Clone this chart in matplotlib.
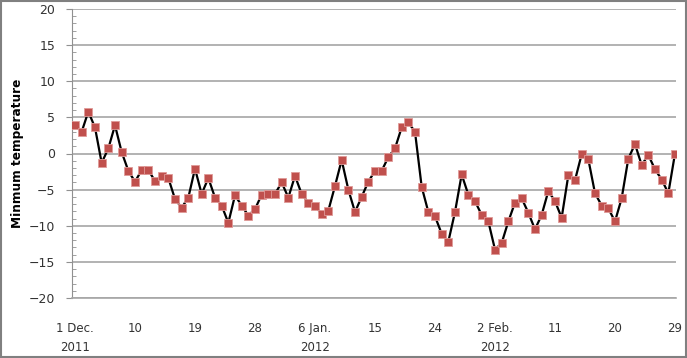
import numpy as np
import matplotlib.pyplot as plt
from matplotlib.patches import Rectangle
from matplotlib.ticker import MultipleLocator

# daily minimum temperature, 1 Dec 2011 .. 29 Feb 2012
min_temp = [
    4.0, 3.0, 5.8, 3.6, -1.3, 0.7, 3.9, 0.2, -2.4, -3.9,
    -2.3, -2.3, -3.8, -3.1, -3.4, -6.3, -7.5, -6.1, -2.1, -5.6,
    -3.4, -6.1, -7.2, -9.6, -5.8, -7.2, -8.6, -7.7, -5.7, -5.6,
    -5.6, -4.0, -6.1, -3.1, -5.6, -6.8, -7.2, -8.4, -7.9, -4.5,
    -0.9, -5.0, -8.1, -6.0, -3.9, -2.4, -2.4, -0.5, 0.7, 3.6,
    4.3, 3.0, -4.6, -8.1, -8.7, -11.1, -12.2, -8.1, -2.9, -5.7,
    -6.6, -8.5, -9.4, -13.3, -12.4, -9.4, -6.8, -6.2, -8.2, -10.5,
    -8.5, -5.2, -6.6, -8.9, -3.0, -3.7, -0.1, -0.8, -5.5, -7.2,
    -7.6, -9.4, -6.2, -0.7, 1.3, -1.6, -0.2, -2.2, -3.6, -5.5,
    0.0,
]
tick_days = [0, 9, 18, 27, 36, 45, 54, 63, 72, 81, 90]
tick_labels = ['1 Dec.\n2011', '10', '19', '28', '6 Jan.\n2012', '15', '24',
               '2 Feb.\n2012', '11', '20', '29']

days = np.arange(len(min_temp))

fig = plt.figure(figsize=(6.87, 3.58), dpi=100)
ax = fig.add_axes([72 / 687, 1 - 298 / 358, 604 / 687, 289 / 358])

# chart border
fig.patches.append(Rectangle((0.002, 0.003), 0.996, 0.994, transform=fig.transFigure,
                             fill=False, edgecolor='#808080', linewidth=1.5))

ax.plot(days, min_temp, color='black', linewidth=1.6, marker='s', markersize=6,
        markerfacecolor='#c0504d', markeredgecolor='#e09a98', markeredgewidth=0.6,
        zorder=3)

ax.set_xlim(-0.45, 90.15)
ax.set_ylim(-20, 20)
ax.yaxis.set_major_locator(MultipleLocator(5))
ax.yaxis.set_minor_locator(MultipleLocator(1))
ax.grid(axis='y', color='#a6a6a6', linewidth=1.2)
ax.set_axisbelow(True)

ax.set_xticks(tick_days)
ax.set_xticklabels(tick_labels, fontsize=8.5, color='#333333', linespacing=1.6)
ax.tick_params(axis='x', length=0, pad=17)
ax.tick_params(axis='y', which='major', length=4, color='#909090', labelsize=9,
               labelcolor='#333333', pad=8)
ax.tick_params(axis='y', which='minor', length=3, direction='in', color='#909090')

for s in ['top', 'right']:
    ax.spines[s].set_visible(False)
ax.spines['left'].set_color('#909090')
ax.spines['bottom'].set_color('#a6a6a6')
ax.spines['bottom'].set_linewidth(1.2)

ax.set_ylabel('Minmum temperature', fontsize=8.7, fontweight='bold')
ax.yaxis.set_label_coords(-0.08, 0.5)

fig.savefig('out.png', dpi=100)
